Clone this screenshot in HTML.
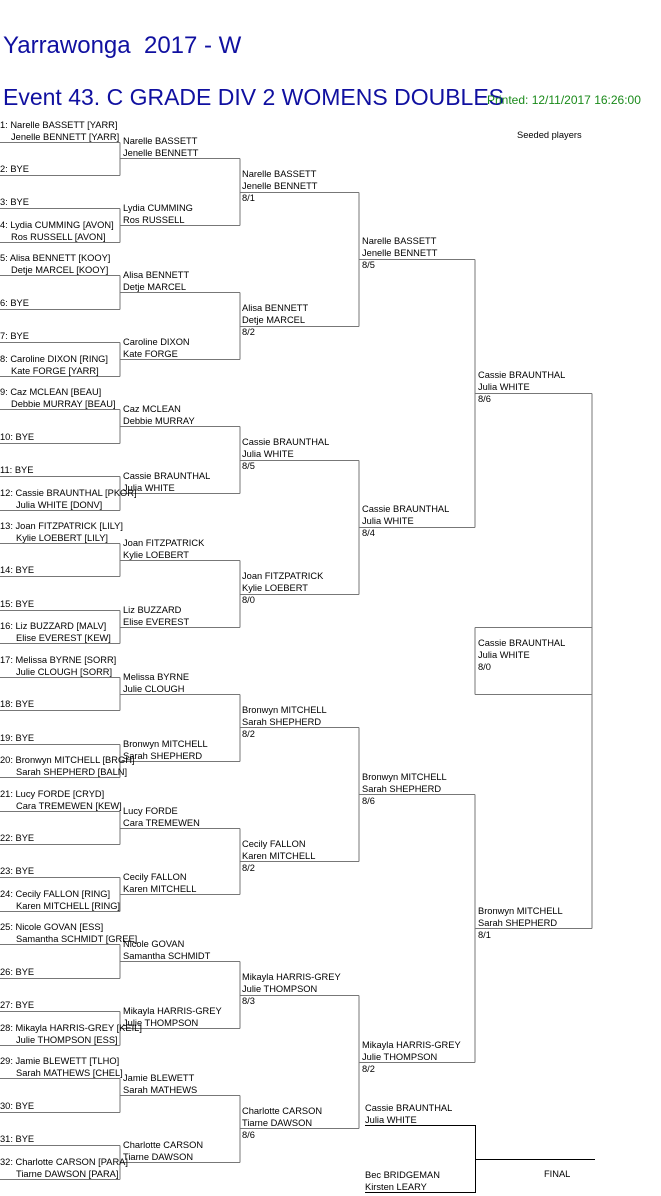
<!DOCTYPE html>
<html><head><meta charset="utf-8"><style>
body{margin:0;background:#fff;width:661px;height:1196px;position:relative;overflow:hidden;font-family:"Liberation Sans",Arial,sans-serif}
.t{position:absolute;font-size:9.3px;line-height:12px;white-space:nowrap;color:#000}
.t i{font-style:normal;display:inline-block;width:11px}
.t b{font-weight:normal;display:inline-block;width:16px}
.h{position:absolute;color:#1010a0;font-size:24px;white-space:nowrap}
svg{position:absolute;left:0;top:0}
</style></head><body>
<div class="h" style="left:3px;top:32px">Yarrawonga&nbsp; 2017 - W</div>
<div class="h" style="left:3px;top:84px;font-size:23px">Event 43. C GRADE DIV 2 WOMENS DOUBLES</div>
<div class="t" style="left:487px;top:94px;font-size:12px;color:#1a8a1a">Printed: 12/11/2017 16:26:00</div>
<div class="t" style="left:517px;top:129px">Seeded players</div>
<svg width="661" height="1196">
<g stroke="#777" stroke-width="1" fill="none">
<path d="M0 142.5H120M0 175.5H120M120 142.5V175.5M0 208.5H120M0 242.5H120M120 208.5V242.5M0 275.5H120M0 309.5H120M120 275.5V309.5M0 342.5H120M0 376.5H120M120 342.5V376.5M0 409.5H120M0 443.5H120M120 409.5V443.5M0 476.5H120M0 510.5H120M120 476.5V510.5M0 543.5H120M0 576.5H120M120 543.5V576.5M0 610.5H120M0 643.5H120M120 610.5V643.5M0 677.5H120M0 710.5H120M120 677.5V710.5M0 744.5H120M0 777.5H120M120 744.5V777.5M0 811.5H120M0 844.5H120M120 811.5V844.5M0 877.5H120M0 911.5H120M120 877.5V911.5M0 944.5H120M0 978.5H120M120 944.5V978.5M0 1011.5H120M0 1045.5H120M120 1011.5V1045.5M0 1078.5H120M0 1112.5H120M120 1078.5V1112.5M0 1145.5H120M0 1179.5H120M120 1145.5V1179.5"/>
<path d="M120 158.5H240M120 225.5H240M240 158.5V225.5M120 292.5H240M120 359.5H240M240 292.5V359.5M120 426.5H240M120 493.5H240M240 426.5V493.5M120 560.5H240M120 627.5H240M240 560.5V627.5M120 694.5H240M120 761.5H240M240 694.5V761.5M120 828.5H240M120 894.5H240M240 828.5V894.5M120 961.5H240M120 1028.5H240M240 961.5V1028.5M120 1095.5H240M120 1162.5H240M240 1095.5V1162.5"/>
<path d="M240 192.5H359M240 326.5H359M359 192.5V326.5M240 460.5H359M240 594.5H359M359 460.5V594.5M240 727.5H359M240 861.5H359M359 727.5V861.5M240 995.5H359M240 1128.5H359M359 995.5V1128.5"/>
<path d="M359 259.5H475M359 527.5H475M475 259.5V527.5M359 794.5H475M359 1062.5H475M475 794.5V1062.5"/>
<path d="M475 393.5H592M475 928.5H592M592 393.5V928.5M475 627.5H592M475 694.5H592M475 627.5V694.5"/>
</g>
<g stroke="#000" stroke-width="1" fill="none"><path d="M365 1125.5H475M365 1192.5H475M475.5 1125V1193M475 1159.5H595"/></g>
</svg>
<div class="t" style="left:0;top:119px">1: Narelle BASSETT [YARR]<br><i></i>Jenelle BENNETT [YARR]</div>
<div class="t" style="left:0;top:163px">2: BYE</div>
<div class="t" style="left:0;top:196px">3: BYE</div>
<div class="t" style="left:0;top:219px">4: Lydia CUMMING [AVON]<br><i></i>Ros RUSSELL [AVON]</div>
<div class="t" style="left:0;top:252px">5: Alisa BENNETT [KOOY]<br><i></i>Detje MARCEL [KOOY]</div>
<div class="t" style="left:0;top:297px">6: BYE</div>
<div class="t" style="left:0;top:330px">7: BYE</div>
<div class="t" style="left:0;top:353px">8: Caroline DIXON [RING]<br><i></i>Kate FORGE [YARR]</div>
<div class="t" style="left:0;top:386px">9: Caz MCLEAN [BEAU]<br><i></i>Debbie MURRAY [BEAU]</div>
<div class="t" style="left:0;top:431px">10: BYE</div>
<div class="t" style="left:0;top:464px">11: BYE</div>
<div class="t" style="left:0;top:487px">12: Cassie BRAUNTHAL [PKOR]<br><b></b>Julia WHITE [DONV]</div>
<div class="t" style="left:0;top:520px">13: Joan FITZPATRICK [LILY]<br><b></b>Kylie LOEBERT [LILY]</div>
<div class="t" style="left:0;top:564px">14: BYE</div>
<div class="t" style="left:0;top:598px">15: BYE</div>
<div class="t" style="left:0;top:620px">16: Liz BUZZARD [MALV]<br><b></b>Elise EVEREST [KEW]</div>
<div class="t" style="left:0;top:654px">17: Melissa BYRNE [SORR]<br><b></b>Julie CLOUGH [SORR]</div>
<div class="t" style="left:0;top:698px">18: BYE</div>
<div class="t" style="left:0;top:732px">19: BYE</div>
<div class="t" style="left:0;top:754px">20: Bronwyn MITCHELL [BRGH]<br><b></b>Sarah SHEPHERD [BALN]</div>
<div class="t" style="left:0;top:788px">21: Lucy FORDE [CRYD]<br><b></b>Cara TREMEWEN [KEW]</div>
<div class="t" style="left:0;top:832px">22: BYE</div>
<div class="t" style="left:0;top:865px">23: BYE</div>
<div class="t" style="left:0;top:888px">24: Cecily FALLON [RING]<br><b></b>Karen MITCHELL [RING]</div>
<div class="t" style="left:0;top:921px">25: Nicole GOVAN [ESS]<br><b></b>Samantha SCHMIDT [GREE]</div>
<div class="t" style="left:0;top:966px">26: BYE</div>
<div class="t" style="left:0;top:999px">27: BYE</div>
<div class="t" style="left:0;top:1022px">28: Mikayla HARRIS-GREY [KEIL]<br><b></b>Julie THOMPSON [ESS]</div>
<div class="t" style="left:0;top:1055px">29: Jamie BLEWETT [TLHO]<br><b></b>Sarah MATHEWS [CHEL]</div>
<div class="t" style="left:0;top:1100px">30: BYE</div>
<div class="t" style="left:0;top:1133px">31: BYE</div>
<div class="t" style="left:0;top:1156px">32: Charlotte CARSON [PARA]<br><b></b>Tiarne DAWSON [PARA]</div>
<div class="t" style="left:123px;top:135px">Narelle BASSETT<br>Jenelle BENNETT</div>
<div class="t" style="left:123px;top:202px">Lydia CUMMING<br>Ros RUSSELL</div>
<div class="t" style="left:123px;top:269px">Alisa BENNETT<br>Detje MARCEL</div>
<div class="t" style="left:123px;top:336px">Caroline DIXON<br>Kate FORGE</div>
<div class="t" style="left:123px;top:403px">Caz MCLEAN<br>Debbie MURRAY</div>
<div class="t" style="left:123px;top:470px">Cassie BRAUNTHAL<br>Julia WHITE</div>
<div class="t" style="left:123px;top:537px">Joan FITZPATRICK<br>Kylie LOEBERT</div>
<div class="t" style="left:123px;top:604px">Liz BUZZARD<br>Elise EVEREST</div>
<div class="t" style="left:123px;top:671px">Melissa BYRNE<br>Julie CLOUGH</div>
<div class="t" style="left:123px;top:738px">Bronwyn MITCHELL<br>Sarah SHEPHERD</div>
<div class="t" style="left:123px;top:805px">Lucy FORDE<br>Cara TREMEWEN</div>
<div class="t" style="left:123px;top:871px">Cecily FALLON<br>Karen MITCHELL</div>
<div class="t" style="left:123px;top:938px">Nicole GOVAN<br>Samantha SCHMIDT</div>
<div class="t" style="left:123px;top:1005px">Mikayla HARRIS-GREY<br>Julie THOMPSON</div>
<div class="t" style="left:123px;top:1072px">Jamie BLEWETT<br>Sarah MATHEWS</div>
<div class="t" style="left:123px;top:1139px">Charlotte CARSON<br>Tiarne DAWSON</div>
<div class="t" style="left:242px;top:168px">Narelle BASSETT<br>Jenelle BENNETT<br>8/1</div>
<div class="t" style="left:242px;top:302px">Alisa BENNETT<br>Detje MARCEL<br>8/2</div>
<div class="t" style="left:242px;top:436px">Cassie BRAUNTHAL<br>Julia WHITE<br>8/5</div>
<div class="t" style="left:242px;top:570px">Joan FITZPATRICK<br>Kylie LOEBERT<br>8/0</div>
<div class="t" style="left:242px;top:704px">Bronwyn MITCHELL<br>Sarah SHEPHERD<br>8/2</div>
<div class="t" style="left:242px;top:838px">Cecily FALLON<br>Karen MITCHELL<br>8/2</div>
<div class="t" style="left:242px;top:971px">Mikayla HARRIS-GREY<br>Julie THOMPSON<br>8/3</div>
<div class="t" style="left:242px;top:1105px">Charlotte CARSON<br>Tiarne DAWSON<br>8/6</div>
<div class="t" style="left:362px;top:235px">Narelle BASSETT<br>Jenelle BENNETT<br>8/5</div>
<div class="t" style="left:362px;top:503px">Cassie BRAUNTHAL<br>Julia WHITE<br>8/4</div>
<div class="t" style="left:362px;top:771px">Bronwyn MITCHELL<br>Sarah SHEPHERD<br>8/6</div>
<div class="t" style="left:362px;top:1039px">Mikayla HARRIS-GREY<br>Julie THOMPSON<br>8/2</div>
<div class="t" style="left:478px;top:369px">Cassie BRAUNTHAL<br>Julia WHITE<br>8/6</div>
<div class="t" style="left:478px;top:637px">Cassie BRAUNTHAL<br>Julia WHITE<br>8/0</div>
<div class="t" style="left:478px;top:905px">Bronwyn MITCHELL<br>Sarah SHEPHERD<br>8/1</div>
<div class="t" style="left:365px;top:1102px">Cassie BRAUNTHAL<br>Julia WHITE</div>
<div class="t" style="left:365px;top:1169px">Bec BRIDGEMAN<br>Kirsten LEARY</div>
<div class="t" style="left:544px;top:1168px">FINAL</div>
</body></html>
